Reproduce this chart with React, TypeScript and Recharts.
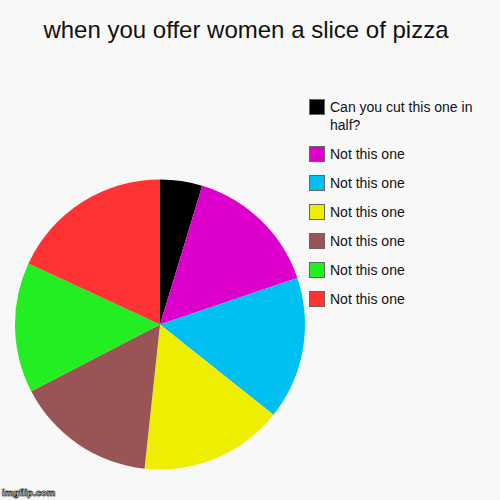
import React from 'react';
import { PieChart, Pie, Cell, Legend } from 'recharts';

const labels = [
  'Can you cut this one in half?',
  'Not this one',
  'Not this one',
  'Not this one',
  'Not this one',
  'Not this one',
  'Not this one',
];
const shares = [4.7, 15.1, 15.9, 16.0, 15.7, 14.5, 18.1];
const colors = ['#000000', '#dd00cc', '#00c0f2', '#eeee00', '#995555', '#22ee22', '#ff3333'];

const data = labels.map((name, i) => ({ name, value: shares[i], color: colors[i] }));

const font = '"Liberation Sans", Arial, sans-serif';

const renderLegend = () => (
  <div style={{ fontFamily: font, fontSize: 14, color: '#111' }}>
    {data.map((d, i) => (
      <div
        key={`leg-${i}`}
        style={{ display: 'flex', alignItems: 'flex-start', marginBottom: 11, lineHeight: '18px' }}
      >
        <div
          style={{
            width: 14,
            height: 14,
            background: d.color,
            border: '1px solid #666',
            flexShrink: 0,
            marginTop: 1,
          }}
        />
        <div style={{ marginLeft: 5, width: 165 }}>{d.name}</div>
      </div>
    ))}
  </div>
);

const App: React.FC = () => {
  return (
    <div
      style={{
        position: 'absolute',
        left: 0,
        top: 0,
        width: 500,
        height: 500,
        background: '#f8f8f8',
        overflow: 'hidden',
      }}
    >
      <div
        style={{
          position: 'absolute',
          top: 16,
          left: 0,
          width: 492,
          textAlign: 'center',
          fontFamily: font,
          fontSize: 24,
          lineHeight: '28px',
          color: '#111',
        }}
      >
        when you offer women a slice of pizza
      </div>
      <PieChart width={500} height={500} margin={{ top: 0, right: 0, bottom: 0, left: 0 }}>
        <Pie
          data={data}
          dataKey="value"
          nameKey="name"
          cx={160}
          cy={324.5}
          outerRadius={145}
          startAngle={90}
          endAngle={-270}
          stroke="none"
          isAnimationActive={false}
        >
          {data.map((entry, index) => (
            <Cell key={`cell-${index}`} fill={entry.color} />
          ))}
        </Pie>
        <Legend
          content={renderLegend}
          layout="vertical"
          wrapperStyle={{ position: 'absolute', top: 98, left: 309, width: 185 }}
        />
      </PieChart>
      <div
        style={{
          position: 'absolute',
          left: 2,
          top: 487,
          fontFamily: font,
          fontWeight: 'bold',
          fontSize: 9.5,
          lineHeight: '11px',
          color: '#fff',
          WebkitTextStroke: '0.5px #000',
          textShadow: '0 0 1.5px #000',
        }}
      >
        imgflip.com
      </div>
    </div>
  );
};

export default App;
